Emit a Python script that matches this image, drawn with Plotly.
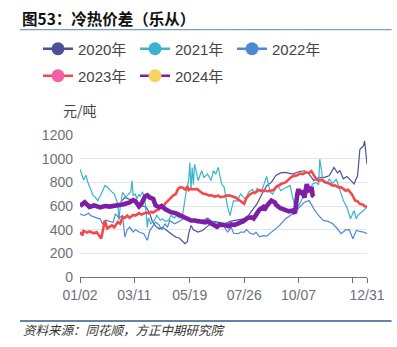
import plotly.graph_objects as go

# ---------------- data ----------------
years = ["2020年", "2021年", "2022年", "2023年", "2024年"]

# x = trading-day index within the year (0 = 01/02, 243 = 12/31)
x2020 = [35,38,41,44,47,50,53,56,59,61,64,67,70,73,75,78,81,84,87,89,91,92,94,96,100,104,108,113,119,123,
         127,133,137,141,146,150,154,158,162,166,170,174,180,185,190,194,198,202,206,211,215,218,220,223,226,229,
         232,235,237,240,241,243]
y2020 = [640,672,660,650,640,610,600,590,540,478,430,408,420,395,380,360,338,330,300,282,300,366,436,400,380,395,
         430,470,460,450,470,480,490,500,570,620,702,770,800,860,880,884,870,890,898,870,814,840,840,856,926,880,
         900,830,850,814,786,856,1080,1108,1150,954]

x2021 = [0,3,5,7,9,11,13,15,18,20,21,23,25,27,29,31,32,33,34,36,38,39,41,43,44,45,47,48,50,51,53,55,57,58,60,63,65,
         68,70,72,75,77,80,82,84,87,90,92,93,94,95,96,97,99,100,103,105,108,111,113,115,117,120,122,125,127,130,
         133,136,140,143,146,148,150,153,155,158,161,163,167,170,175,178,180,183,186,188,191,194,197,200,202,203,
         206,209,211,214,217,220,223,226,229,232,234,235,237,240,243]
y2021 = [912,820,860,790,744,690,674,646,702,740,772,760,744,720,702,640,618,480,590,716,690,674,700,720,814,690,
         700,660,700,680,720,650,420,500,450,480,520,480,492,470,480,520,500,520,500,530,730,814,968,740,926,780,
         954,850,814,898,842,870,814,900,870,926,786,760,590,520,646,640,702,660,720,740,700,750,720,760,850,720,
         700,780,730,760,772,674,562,618,660,702,720,786,800,780,996,800,790,828,790,828,730,646,590,492,560,492,
         520,534,562,590,604]

x2022 = [0,3,5,7,9,12,14,17,19,22,25,28,30,33,36,38,40,42,45,47,50,54,57,59,61,64,67,69,72,74,76,80,84,87,90,92,
         96,100,104,108,112,117,121,125,128,130,134,136,139,141,144,147,149,152,155,158,161,164,169,174,178,182,
         186,190,194,198,202,206,210,214,218,221,225,228,231,234,237,240,243]
y2022 = [534,520,525,540,520,506,500,492,450,480,470,460,534,500,520,338,400,422,380,400,380,366,310,390,420,464,
         440,400,450,420,478,450,470,490,500,506,470,455,480,500,470,455,440,380,420,370,366,380,380,400,370,360,
         380,340,350,345,370,395,436,492,520,548,590,632,646,576,520,478,470,450,408,366,398,400,324,394,385,380,
         366]

x2023 = [0,2,3,6,8,12,14,17,18,21,23,27,29,32,34,36,38,40,42,45,47,50,52,56,58,60,62,64,67,68,71,72,75,77,79,81,
         83,85,87,89,91,92,94,97,99,102,104,107,109,111,114,117,119,122,125,127,130,132,134,136,139,141,144,146,
         149,151,154,156,159,161,164,166,169,171,174,176,179,181,184,186,189,191,194,196,198,200,202,205,208,211,
         214,216,219,221,225,227,230,231,233,235,237,240,241,243]
y2023 = [380,352,390,375,385,370,380,345,325,478,411,436,420,464,450,506,500,520,500,525,520,540,528,545,538,550,
         545,560,572,590,600,620,650,670,690,700,745,760,755,740,765,735,745,740,745,720,705,700,690,690,680,688,
         675,680,690,688,680,670,655,640,620,670,700,710,716,735,728,730,725,730,735,760,780,790,800,820,845,855,
         860,875,870,885,880,895,860,828,815,820,800,790,772,775,758,760,730,738,702,680,646,640,618,610,598,596]

x2024 = [0,4,8,12,17,21,25,29,33,37,42,45,47,50,52,55,57,59,62,64,67,69,72,75,77,81,84,87,89,92,94,97,100,103,106,
         108,111,113,116,118,121,123,126,128,131,133,136,138,140,142,145,147,150,152,155,156,158,160,162,165,166,
         169,171,174,177,180,182,184,185,186,188,190,191,192,194,196,197,198]
y2024 = [600,632,592,605,588,600,595,600,612,615,630,650,640,598,620,680,690,672,660,605,590,600,575,555,548,540,
         525,520,505,495,478,478,470,465,462,470,452,445,425,440,445,440,430,445,440,452,462,470,485,500,505,495,
         540,570,590,565,600,620,646,630,610,585,575,565,555,562,540,700,745,700,730,672,740,785,720,760,690,680]

tick_idx = [0, 46, 93, 139, 185, 231, 243]
tick_text = ["01/02", "03/11", "05/19", "07/26", "10/07", "", "12/31"]
y_ticks = [0, 200, 400, 600, 800, 1000, 1200]

# ---------------- styles ----------------
line_colors = ["#4b5199", "#3ab4cc", "#4b89d6", "#f6484a", "#7d1fa6"]
marker_colors = ["#4b5199", "#3ab4cc", "#4b89d6", "#f45fa8", "#f2d65c"]
widths = [1.2, 1.2, 1.2, 2.6, 4.6]
legend_ids = ["legend", "legend", "legend", "legend2", "legend2"]

FONT = "Liberation Sans, Noto Sans CJK SC, sans-serif"
W, H = 397, 347
L, R, T, B = 80, 25, 134.8, 70  # plot area 80..372 x, 134.8..277 y

fig = go.Figure()
series = [(x2020, y2020), (x2021, y2021), (x2022, y2022), (x2023, y2023), (x2024, y2024)]
for i, (xs, ys) in enumerate(series):
    fig.add_trace(go.Scatter(x=xs, y=ys, mode="lines", showlegend=False,
                             line=dict(color=line_colors[i], width=widths[i]),
                             hoverinfo="skip"))
for i, name in enumerate(years):
    fig.add_trace(go.Scatter(x=[None], y=[None], mode="lines+markers", name=name,
                             legend=legend_ids[i],
                             line=dict(color=line_colors[i], width=2.5),
                             marker=dict(color=marker_colors[i], size=13)))

pw = W - L - R
ph = H - T - B


def px(xp):
    return (xp - L) / pw


def py(yp):
    return (H - B - yp) / ph


leg_common = dict(orientation="h", xref="container", yref="container",
                  xanchor="left", yanchor="middle",
                  entrywidth=52, entrywidthmode="pixels",
                  font=dict(size=15, color="#444", family=FONT),
                  itemsizing="trace", bgcolor="rgba(0,0,0,0)")

fig.update_layout(
    width=W, height=H,
    margin=dict(l=L, r=R, t=T, b=B),
    paper_bgcolor="white", plot_bgcolor="white",
    font=dict(family=FONT, size=13, color="#555"),
    legend=dict(x=38 / W, y=1 - 49 / H, **leg_common),
    legend2=dict(x=38 / W, y=1 - 76 / H, **leg_common),
    xaxis=dict(range=[0, 243], tickmode="array", tickvals=tick_idx, ticktext=tick_text,
               showgrid=False, zeroline=False, showline=True, linecolor="#6e7079", linewidth=1,
               ticks="outside", ticklen=5, tickcolor="#6e7079",
               tickfont=dict(size=14, color="#6e7079", family=FONT)),
    yaxis=dict(range=[0, 1200.5], tickmode="array", tickvals=y_ticks,
               showgrid=True, gridcolor="#e0e6f1", gridwidth=1, zeroline=False, showline=False,
               ticks="", ticklabelstandoff=6,
               tickfont=dict(size=14, color="#6e7079", family=FONT)),
    showlegend=True,
)

# title, axis name, source
fig.add_annotation(text="<b>图53：冷热价差（乐从）</b>", xref="paper", yref="paper",
                   x=px(19), y=py(18), xanchor="left", yanchor="middle", showarrow=False,
                   font=dict(size=15.5, color="#111", family="Noto Sans CJK SC"))
fig.add_annotation(text="元/吨", xref="paper", yref="paper",
                   x=px(80), y=py(110), xanchor="center", yanchor="middle", showarrow=False,
                   font=dict(size=14, color="#444", family="Noto Sans CJK SC"))
fig.add_annotation(text="<i>资料来源：同花顺，方正中期研究院</i>", xref="paper", yref="paper",
                   x=px(20), y=py(330), xanchor="left", yanchor="middle", showarrow=False,
                   font=dict(size=12.5, color="#333", family="Noto Sans CJK SC"))
fig.add_shape(type="line", xref="paper", yref="paper", x0=px(19), x1=px(397), y0=py(29.3), y1=py(29.3),
              line=dict(color="#7c9cbc", width=1.2))
fig.add_shape(type="line", xref="paper", yref="paper", x0=px(19), x1=px(397), y0=py(321), y1=py(321),
              line=dict(color="#2e5c8a", width=1.4))

fig.write_html("out.html")
